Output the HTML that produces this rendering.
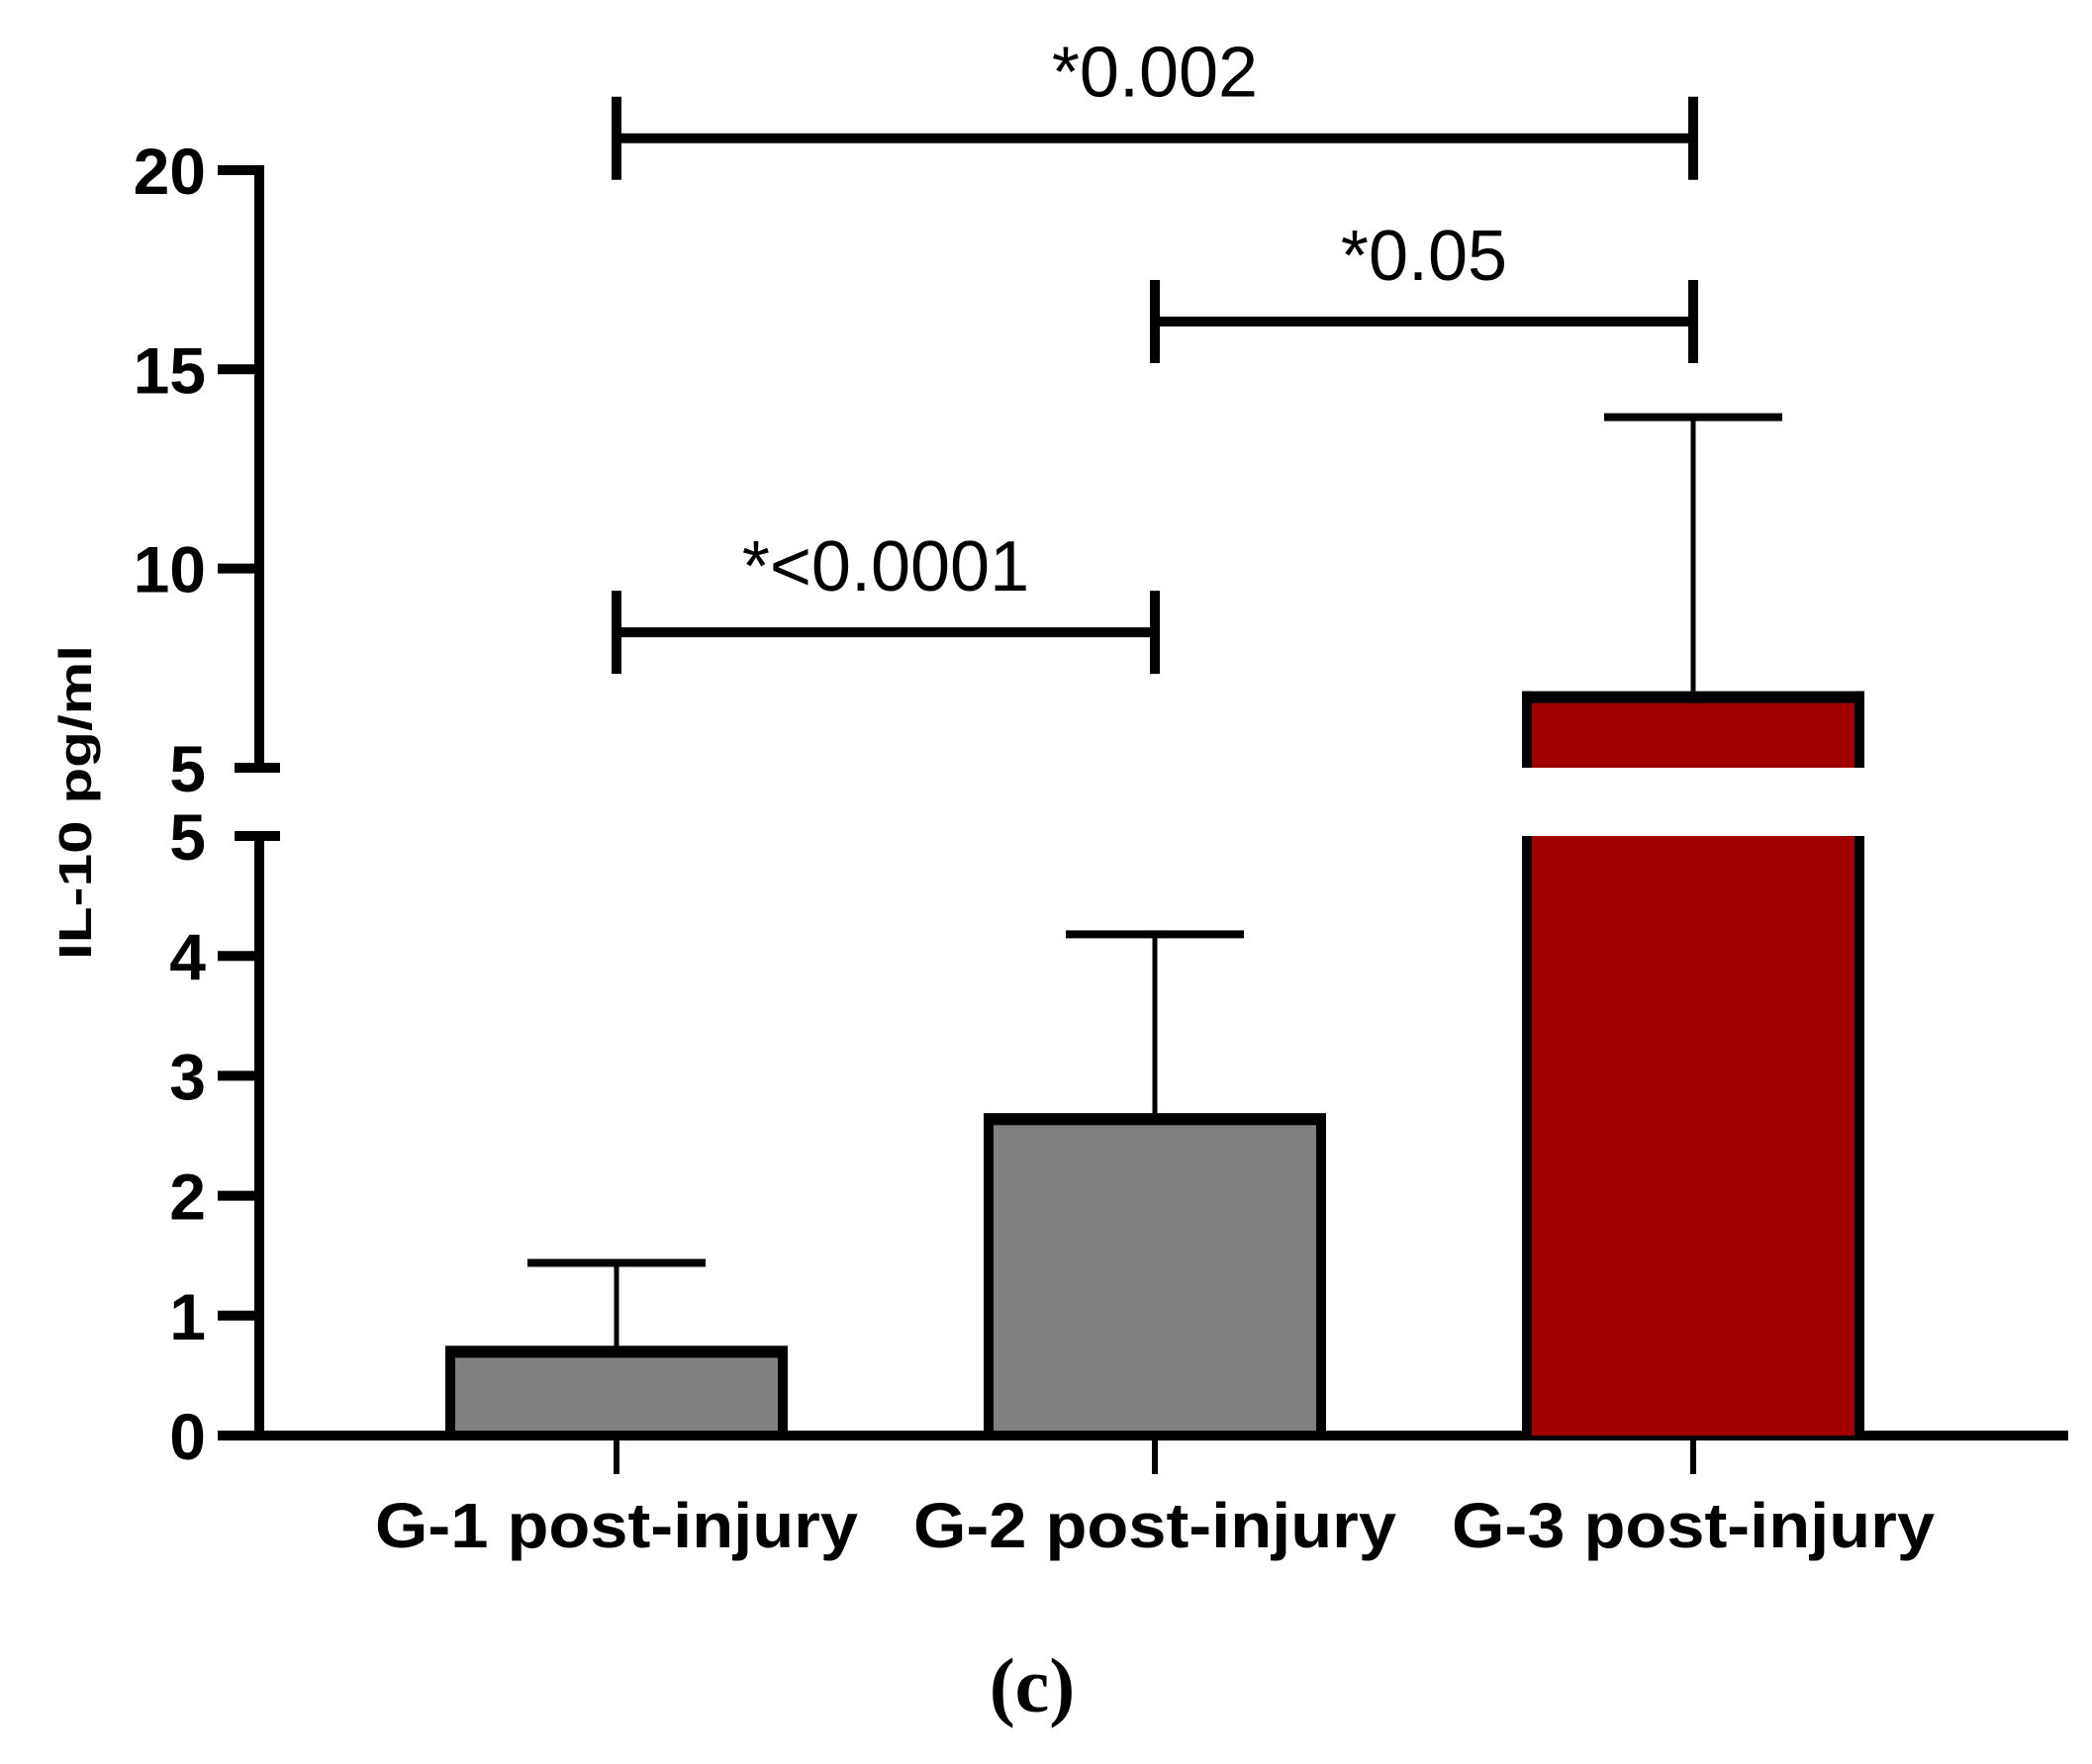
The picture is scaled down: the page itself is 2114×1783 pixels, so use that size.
<!DOCTYPE html>
<html><head><meta charset="utf-8"><style>
html,body{margin:0;padding:0;background:#fff;}
svg{display:block;}
text{font-family:"Liberation Sans",Arial,sans-serif;}
</style></head><body>
<svg id="chart" width="2114" height="1783" viewBox="0 0 2114 1783" xmlns="http://www.w3.org/2000/svg">
<g id="axes"></g>
<g id="bars"></g>
<g id="sig"></g>
<text x="0" y="0" transform="translate(92,811) rotate(-90)" text-anchor="middle" font-size="46" font-weight="bold" textLength="318" lengthAdjust="spacingAndGlyphs">IL-10 pg/ml</text>
<text x="1043" y="1730" text-anchor="middle" font-size="78" font-weight="bold" style="font-family:'Liberation Serif',serif">(c)</text>
</svg>
<script>
const categories = ["G-1 post-injury","G-2 post-injury","G-3 post-injury"];
const means = [0.74, 2.68, 6.92];
const errors = [0.70, 1.50, 6.88];
const barColors = ["#808080","#808080","#a00000"];
const lowerTicks = [0,1,2,3,4,5];
const upperTicks = [5,10,15,20];
const sigLabels = ["*0.002","*0.05","*<0.0001"];
const sigPairs = [[0,2],[1,2],[0,1]];
const sigLevels = [20.8, 16.2, 8.4];

const NS="http://www.w3.org/2000/svg";
function mk(tag, attrs, parent){const e=document.createElementNS(NS,tag);for(const k in attrs)e.setAttribute(k,attrs[k]);parent.appendChild(e);return e;}
const AX=262, XEND=2090;
function yLow(v){return 1451 - v*121.2;}
function yUp(v){return 776 - (v-5)*40.27;}
function yVal(v){return v<=5 ? yLow(v) : yUp(v);}
function xCat(i){return 623 + i*544;}
const axes=document.getElementById('axes'), bars=document.getElementById('bars'), sig=document.getElementById('sig');

let l=mk('line',{x1:AX,x2:AX,y1:yLow(5),y2:yLow(0)+5,stroke:'#000','stroke-width':10},axes);


l=mk('line',{x1:AX,x2:AX,y1:yUp(20)-5,y2:yUp(5),stroke:'#000','stroke-width':10},axes);


l=mk('line',{x1:AX-5,x2:XEND,y1:yLow(0),y2:yLow(0),stroke:'#000','stroke-width':10},axes);


function tickLabel(v,y){
  const tx=mk('text',{x:208,y:y+24,'text-anchor':'end','font-size':66,'font-weight':'bold'},axes);
  tx.textContent=v;
  
  
}
lowerTicks.forEach(v=>{
  const y=yLow(v); const brk=(v===5);
  const t=mk('line',{x1:brk?237:220,x2:brk?283:AX,y1:y,y2:y,stroke:'#000','stroke-width':10},axes);
  
  
  tickLabel(v,y);
});
upperTicks.forEach(v=>{
  const y=yUp(v); const brk=(v===5);
  const t=mk('line',{x1:brk?237:220,x2:brk?283:AX,y1:y,y2:y,stroke:'#000','stroke-width':10},axes);
  
  
  tickLabel(v,y);
});
categories.forEach((c,i)=>{
  const x=xCat(i);
  const t=mk('line',{x1:x,x2:x,y1:yLow(0),y2:1490,stroke:'#000','stroke-width':6},axes);
  
  
  const tx=mk('text',{x:x,y:1564,'text-anchor':'middle','font-size':64,'font-weight':'bold',textLength:488,lengthAdjust:'spacingAndGlyphs'},axes);
  tx.textContent=c;
  
  
});
const HW=173;
means.forEach((m,i)=>{
  const x=xCat(i);
  const top=yVal(m), bot=yLow(0), e=m+errors[i], ey=yVal(e);
  const g=mk('g',{},bars);
  
  
  mk('line',{x1:x,x2:x,y1:ey,y2:top,stroke:'#000','stroke-width':5},g);
  mk('line',{x1:x-90,x2:x+90,y1:ey,y2:ey,stroke:'#000','stroke-width':8},g);
  if(m<=5){
    mk('rect',{x:x-HW+5,y:top+6,width:2*HW-10,height:bot-top-6,fill:barColors[i],stroke:'#000','stroke-width':10},g);
    mk('line',{x1:x-HW,x2:x+HW,y1:top+5,y2:top+5,stroke:'#000','stroke-width':12},g);
  } else {
    mk('rect',{x:x-HW+5,y:yLow(5),width:2*HW-10,height:bot-yLow(5),fill:barColors[i],stroke:'none'},g);
    mk('line',{x1:x-HW+5,x2:x-HW+5,y1:yLow(5),y2:bot,stroke:'#000','stroke-width':10},g);
    mk('line',{x1:x+HW-5,x2:x+HW-5,y1:yLow(5),y2:bot,stroke:'#000','stroke-width':10},g);
    mk('rect',{x:x-HW+5,y:top+6,width:2*HW-10,height:yUp(5)-top-6,fill:barColors[i],stroke:'none'},g);
    mk('line',{x1:x-HW+5,x2:x-HW+5,y1:top,y2:yUp(5),stroke:'#000','stroke-width':10},g);
    mk('line',{x1:x+HW-5,x2:x+HW-5,y1:top,y2:yUp(5),stroke:'#000','stroke-width':10},g);
    mk('line',{x1:x-HW,x2:x+HW,y1:top+6,y2:top+6,stroke:'#000','stroke-width':12},g);
  }
});
sigPairs.forEach((p,k)=>{
  const x1=xCat(p[0]), x2=xCat(p[1]), y=yVal(sigLevels[k]);
  const g=mk('g',{},sig);
  
  
  mk('line',{x1:x1,x2:x2,y1:y,y2:y,stroke:'#000','stroke-width':10},g);
  mk('line',{x1:x1,x2:x1,y1:y-42,y2:y+42,stroke:'#000','stroke-width':10},g);
  mk('line',{x1:x2,x2:x2,y1:y-42,y2:y+42,stroke:'#000','stroke-width':10},g);
  const t=mk('text',{x:(x1+x2)/2,y:y-42,'text-anchor':'middle','font-size':72},g);
  t.textContent=sigLabels[k];
  
  
});
</script>
</body></html>
